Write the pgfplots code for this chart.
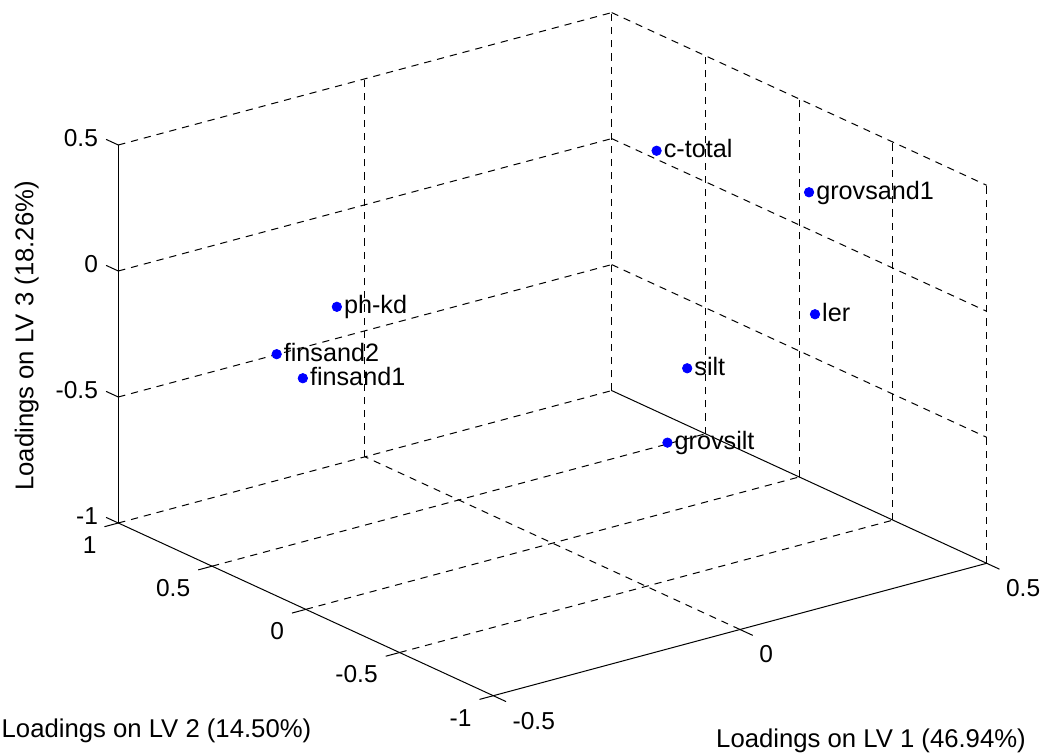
\documentclass[border=0pt]{standalone}
\usepackage{pgfplots}
\usepackage{pgfplotstable}
\pgfplotsset{compat=1.18}
\usepackage{fontspec}
\setmainfont{Liberation Sans}
\usetikzlibrary{calc}

% PLS loadings of the soil variables on the first three latent variables
\pgfplotstableread{
x      y     z      label
-0.209  0.60 -0.158 ph-kd
-0.293  0.70 -0.336 finsand2
-0.297  0.55 -0.378 finsand1
 0.249  0.10  0.392 c-total
 0.368 -0.40  0.336 grovsand1
 0.342 -0.50 -0.100 ler
 0.197 -0.20 -0.341 silt
 0.309  0.20 -0.832 grovsilt
}\loadings

\tikzset{
  mgrid/.style={black, line width=0.5pt, dash pattern=on 3.6pt off 3pt},
  maxis/.style={black, line width=0.5pt},
  ticklab/.style={font=\fontsize{12.25}{14.7}\selectfont, inner sep=0pt},
  axlab/.style={font=\fontsize{12.85}{15.4}\selectfont, inner sep=0pt},
}

\begin{document}
\begin{tikzpicture}
\begin{axis}[
  hide axis, clip=false, disabledatascaling,
  x={(246.7pt,66.2pt)}, y={(-93.75pt,43.175pt)}, z={(0pt,126pt)},
  xmin=-0.5, xmax=0.5, ymin=-1, ymax=1, zmin=-1, zmax=0.5,
]
% back wall (y = 1)
\draw[mgrid] (axis cs:0,1,-1) -- (axis cs:0,1,0.5);
\draw[mgrid] (axis cs:0.5,1,-1) -- (axis cs:0.5,1,0.5);
\draw[mgrid] (axis cs:-0.5,1,-1) -- (axis cs:0.5,1,-1);
\draw[mgrid] (axis cs:-0.5,1,-0.5) -- (axis cs:0.5,1,-0.5);
\draw[mgrid] (axis cs:-0.5,1,0) -- (axis cs:0.5,1,0);
\draw[mgrid] (axis cs:-0.5,1,0.5) -- (axis cs:0.5,1,0.5);
% side wall (x = 0.5)
\draw[mgrid] (axis cs:0.5,0.5,-1) -- (axis cs:0.5,0.5,0.5);
\draw[mgrid] (axis cs:0.5,0,-1) -- (axis cs:0.5,0,0.5);
\draw[mgrid] (axis cs:0.5,-0.5,-1) -- (axis cs:0.5,-0.5,0.5);
\draw[mgrid] (axis cs:0.5,-1,-1) -- (axis cs:0.5,-1,0.5);
\draw[mgrid] (axis cs:0.5,1,-0.5) -- (axis cs:0.5,-1,-0.5);
\draw[mgrid] (axis cs:0.5,1,0) -- (axis cs:0.5,-1,0);
\draw[mgrid] (axis cs:0.5,1,0.5) -- (axis cs:0.5,-1,0.5);
% floor (z = -1)
\draw[mgrid] (axis cs:0,-1,-1) -- (axis cs:0,1,-1);
\draw[mgrid] (axis cs:-0.5,0.5,-1) -- (axis cs:0.5,0.5,-1);
\draw[mgrid] (axis cs:-0.5,0,-1) -- (axis cs:0.5,0,-1);
\draw[mgrid] (axis cs:-0.5,-0.5,-1) -- (axis cs:0.5,-0.5,-1);
% solid axis lines
\draw[maxis] (axis cs:-0.5,1,-1) -- (axis cs:-0.5,1,0.5);
\draw[maxis] (axis cs:-0.5,1,-1) -- (axis cs:-0.5,-1,-1) -- (axis cs:0.5,-1,-1) -- (axis cs:0.5,1,-1);
% z ticks and labels
\draw[maxis] (axis cs:-0.5,1,-1) -- (axis cs:-0.5,1.065,-1);
\draw[maxis] (axis cs:-0.5,1,-0.5) -- (axis cs:-0.5,1.065,-0.5);
\draw[maxis] (axis cs:-0.5,1,0) -- (axis cs:-0.5,1.065,0);
\draw[maxis] (axis cs:-0.5,1,0.5) -- (axis cs:-0.5,1.065,0.5);
\node[ticklab, anchor=east, xshift=-10pt, yshift=3.25pt] at (axis cs:-0.5,1,-1) {-1};
\node[ticklab, anchor=east, xshift=-10pt, yshift=3.25pt] at (axis cs:-0.5,1,-0.5) {-0.5};
\node[ticklab, anchor=east, xshift=-10pt, yshift=3.25pt] at (axis cs:-0.5,1,0) {0};
\node[ticklab, anchor=east, xshift=-10pt, yshift=3.25pt] at (axis cs:-0.5,1,0.5) {0.5};
% y ticks and labels
\draw[maxis] (axis cs:-0.5,1,-1) -- (axis cs:-0.528,1,-1);
\draw[maxis] (axis cs:-0.5,0.5,-1) -- (axis cs:-0.528,0.5,-1);
\draw[maxis] (axis cs:-0.5,0,-1) -- (axis cs:-0.528,0,-1);
\draw[maxis] (axis cs:-0.5,-0.5,-1) -- (axis cs:-0.528,-0.5,-1);
\draw[maxis] (axis cs:-0.5,-1,-1) -- (axis cs:-0.528,-1,-1);
\node[ticklab, anchor=east, xshift=-10.75pt, yshift=-11pt] at (axis cs:-0.5,1,-1) {1};
\node[ticklab, anchor=east, xshift=-10.75pt, yshift=-11pt] at (axis cs:-0.5,0.5,-1) {0.5};
\node[ticklab, anchor=east, xshift=-10.75pt, yshift=-11pt] at (axis cs:-0.5,0,-1) {0};
\node[ticklab, anchor=east, xshift=-10.75pt, yshift=-11pt] at (axis cs:-0.5,-0.5,-1) {-0.5};
\node[ticklab, anchor=east, xshift=-10.75pt, yshift=-11pt] at (axis cs:-0.5,-1,-1) {-1};
% x ticks and labels
\draw[maxis] (axis cs:-0.5,-1,-1) -- (axis cs:-0.5,-1.068,-1);
\draw[maxis] (axis cs:0,-1,-1) -- (axis cs:0,-1.068,-1);
\draw[maxis] (axis cs:0.5,-1,-1) -- (axis cs:0.5,-1.068,-1);
\node[ticklab, anchor=west, xshift=9.5pt, yshift=-12.5pt] at (axis cs:-0.5,-1,-1) {-0.5};
\node[ticklab, anchor=west, xshift=9.5pt, yshift=-12.5pt] at (axis cs:0,-1,-1) {0};
\node[ticklab, anchor=west, xshift=9.5pt, yshift=-12.5pt] at (axis cs:0.5,-1,-1) {0.5};
% loadings
\addplot3[only marks, mark=*, mark size=2.35pt,
  mark options={draw=blue, fill=blue},
  nodes near coords, point meta=explicit symbolic,
  every node near coord/.append style={anchor=base west, xshift=3.4pt, yshift=-3.5pt,
    text=black, inner sep=0pt, font=\fontsize{12.6}{15}\selectfont}]
  table[x=x, y=y, z=z, meta=label] {\loadings};
\coordinate (C) at (axis cs:-0.5,-1,-1);
\end{axis}
% axis titles
\node[axlab, anchor=base] at ($(C)+(188.85pt,-26pt)$) {Loadings on LV 1 (46.94\%)};
\node[axlab, anchor=base west] at ($(C)+(-246.0pt,-21.15pt)$) {Loadings on LV 2 (14.50\%)};
\node[axlab, anchor=base, rotate=90] at ($(C)+(-230pt,179.85pt)$) {Loadings on LV 3 (18.26\%)};
\pgfresetboundingbox
\path[use as bounding box] ($(C)+(-246.65pt,-29.15pt)$) rectangle ($(C)+(274.85pt,347.85pt)$);
\end{tikzpicture}
\end{document}
